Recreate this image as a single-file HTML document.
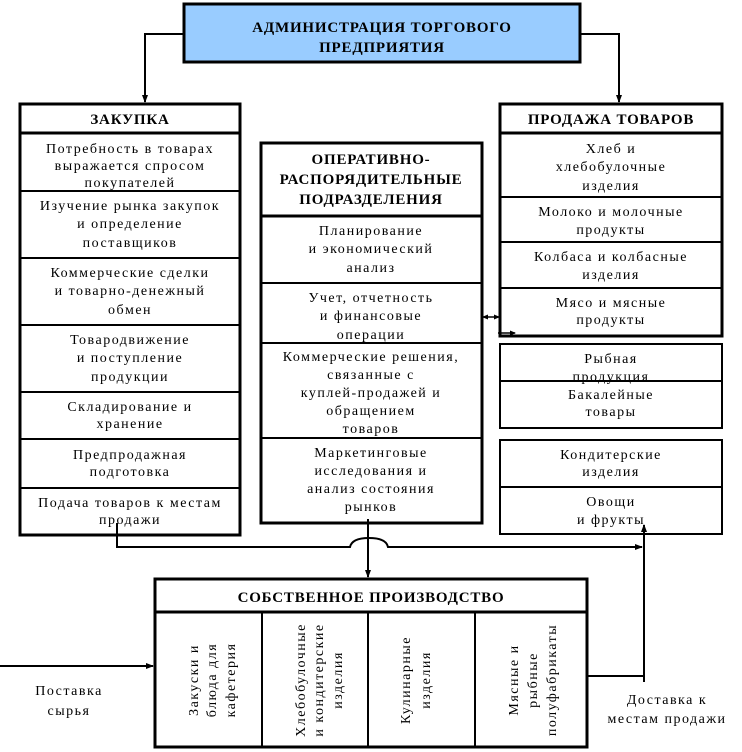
<!DOCTYPE html>
<html><head><meta charset="utf-8"><style>
body{margin:0;background:#fff}
svg{display:block}
text{font-family:"Liberation Serif",serif;font-size:14px;letter-spacing:1.5px;text-anchor:middle;fill:#000}
.b{font-weight:bold;font-size:15px;letter-spacing:0.8px}
</style></head><body>
<svg width="742" height="752" viewBox="0 0 742 752" xmlns="http://www.w3.org/2000/svg">
<defs>
<marker id="a" markerWidth="8" markerHeight="8" refX="7" refY="4" orient="auto" markerUnits="userSpaceOnUse"><path d="M0,1 L8,4 L0,7 z" fill="#000"/></marker>
<marker id="s" markerWidth="6" markerHeight="6" refX="5" refY="3" orient="auto-start-reverse" markerUnits="userSpaceOnUse"><path d="M0,0.5 L6,3 L0,5.5 z" fill="#000"/></marker>
</defs>
<g fill="none" stroke="#000" stroke-width="2">
<!-- admin connectors -->
<polyline points="184,34 145,34 145,102" marker-end="url(#a)"/>
<polyline points="580,34 619,34 619,102" marker-end="url(#a)"/>
<!-- admin -->
<rect x="184" y="4" width="396" height="58" fill="#99ccff" stroke-width="3"/>
<!-- zakupka -->
<rect x="20" y="104" width="220" height="431" stroke-width="3"/>
<line x1="20" y1="133" x2="240" y2="133" stroke-width="3"/>
<line x1="20" y1="191" x2="240" y2="191"/><line x1="20" y1="258" x2="240" y2="258"/>
<line x1="20" y1="325" x2="240" y2="325"/><line x1="20" y1="392" x2="240" y2="392"/>
<line x1="20" y1="439" x2="240" y2="439"/><line x1="20" y1="488" x2="240" y2="488"/>
<!-- middle -->
<rect x="261" y="143" width="221" height="380" stroke-width="3"/>
<line x1="261" y1="216" x2="482" y2="216" stroke-width="3"/>
<line x1="261" y1="283" x2="482" y2="283"/><line x1="261" y1="343" x2="482" y2="343"/>
<line x1="261" y1="438" x2="482" y2="438"/>
<!-- right -->
<rect x="500" y="104" width="222" height="232" stroke-width="3"/>
<line x1="500" y1="133" x2="722" y2="133" stroke-width="3"/>
<line x1="500" y1="197" x2="722" y2="197"/><line x1="500" y1="242" x2="722" y2="242"/>
<line x1="500" y1="288" x2="722" y2="288"/>
<rect x="500" y="344" width="222" height="84"/>
<line x1="500" y1="381" x2="722" y2="381"/>
<rect x="500" y="440" width="222" height="94"/>
<line x1="500" y1="487" x2="722" y2="487"/>
<!-- prod -->
<rect x="155" y="579" width="432" height="168" stroke-width="3"/>
<line x1="155" y1="612" x2="587" y2="612" stroke-width="3"/>
<line x1="262" y1="612" x2="262" y2="747"/><line x1="368" y1="612" x2="368" y2="747"/>
<line x1="475" y1="612" x2="475" y2="747"/>
<!-- connectors -->
<line x1="483" y1="317" x2="499" y2="317" stroke-width="1.5" marker-start="url(#s)" marker-end="url(#s)"/>
<line x1="498" y1="333" x2="515" y2="333" stroke-width="1.5" marker-end="url(#s)"/>
<path d="M117,523 L117,547 L350,547 Q352,538 369,538 Q386,538 388,547 L642,547" marker-end="url(#a)"/>
<line x1="368" y1="519" x2="368" y2="577" marker-end="url(#a)"/>
<line x1="0" y1="666" x2="153" y2="666" marker-end="url(#a)"/>
<line x1="587" y1="676" x2="644" y2="676"/>
<line x1="644" y1="682" x2="644" y2="525" marker-end="url(#a)"/>
</g>
<text class="b" x="382" y="32">АДМИНИСТРАЦИЯ ТОРГОВОГО</text>
<text class="b" x="382" y="52">ПРЕДПРИЯТИЯ</text>
<text class="b" x="130" y="124">ЗАКУПКА</text>
<text x="130" y="153">Потребность в товарах</text>
<text x="130" y="170">выражается спросом</text>
<text x="130" y="187">покупателей</text>
<text x="130" y="210">Изучение рынка закупок</text>
<text x="130" y="228">и определение</text>
<text x="130" y="247">поставщиков</text>
<text x="130" y="277">Коммерческие сделки</text>
<text x="130" y="295">и товарно-денежный</text>
<text x="130" y="314">обмен</text>
<text x="130" y="344">Товародвижение</text>
<text x="130" y="362">и поступление</text>
<text x="130" y="381">продукции</text>
<text x="130" y="411">Складирование и</text>
<text x="130" y="428">хранение</text>
<text x="130" y="459">Предпродажная</text>
<text x="130" y="476">подготовка</text>
<text x="130" y="507">Подача товаров к местам</text>
<text x="130" y="524">продажи</text>
<text class="b" x="371" y="164">ОПЕРАТИВНО-</text>
<text class="b" x="371" y="184">РАСПОРЯДИТЕЛЬНЫЕ</text>
<text class="b" x="371" y="204">ПОДРАЗДЕЛЕНИЯ</text>
<text x="371" y="235">Планирование</text>
<text x="371" y="253">и экономический</text>
<text x="371" y="272">анализ</text>
<text x="371" y="302">Учет, отчетность</text>
<text x="371" y="320">и финансовые</text>
<text x="371" y="339">операции</text>
<text x="371" y="361">Коммерческие решения,</text>
<text x="371" y="379">связанные с</text>
<text x="371" y="397">куплей-продажей и</text>
<text x="371" y="415">обращением</text>
<text x="371" y="433">товаров</text>
<text x="371" y="457">Маркетинговые</text>
<text x="371" y="475">исследования и</text>
<text x="371" y="493">анализ состояния</text>
<text x="371" y="511">рынков</text>
<text class="b" x="611" y="124">ПРОДАЖА ТОВАРОВ</text>
<text x="611" y="153">Хлеб и</text>
<text x="611" y="171">хлебобулочные</text>
<text x="611" y="190">изделия</text>
<text x="611" y="216">Молоко и молочные</text>
<text x="611" y="234">продукты</text>
<text x="611" y="261">Колбаса и колбасные</text>
<text x="611" y="279">изделия</text>
<text x="611" y="307">Мясо и мясные</text>
<text x="611" y="324">продукты</text>
<text x="611" y="363">Рыбная</text>
<text x="611" y="381">продукция</text>
<text x="611" y="399">Бакалейные</text>
<text x="611" y="416">товары</text>
<text x="611" y="459">Кондитерские</text>
<text x="611" y="476">изделия</text>
<text x="611" y="506">Овощи</text>
<text x="611" y="524">и фрукты</text>
<text class="b" x="371" y="602">СОБСТВЕННОЕ ПРОИЗВОДСТВО</text>
<g transform="translate(208,680) rotate(-90)">
<text x="0" y="-10">Закуски и</text><text x="0" y="8">блюда для</text><text x="0" y="27">кафетерия</text></g>
<g transform="translate(315,680) rotate(-90)">
<text x="0" y="-10">Хлебобулочные</text><text x="0" y="8">и кондитерские</text><text x="0" y="27">изделия</text></g>
<g transform="translate(421,680) rotate(-90)">
<text x="0" y="-11">Кулинарные</text><text x="0" y="9">изделия</text></g>
<g transform="translate(531,680) rotate(-90)">
<text x="0" y="-13">Мясные и</text><text x="0" y="6">рыбные</text><text x="0" y="25">полуфабрикаты</text></g>
<text x="69" y="695">Поставка</text>
<text x="69" y="715">сырья</text>
<text x="667" y="704">Доставка к</text>
<text x="667" y="723">местам продажи</text>
</svg>
</body></html>
